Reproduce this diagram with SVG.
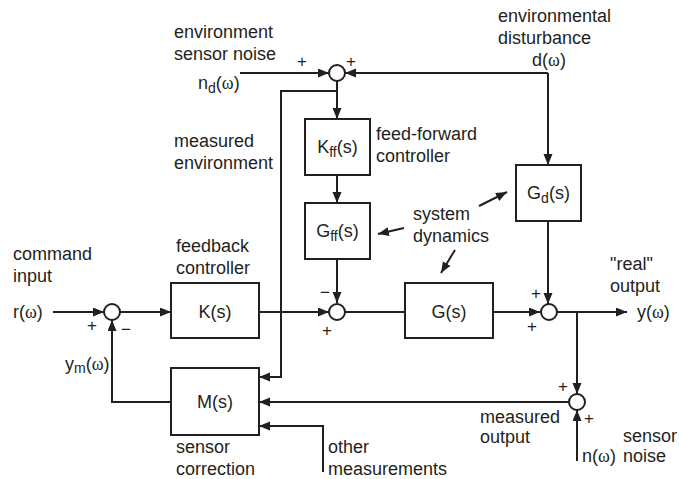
<svg xmlns="http://www.w3.org/2000/svg" width="679" height="479" viewBox="0 0 679 479">
<style>
text{font-family:"Liberation Sans",Arial,sans-serif;font-size:18px;fill:#231f20}
.sub{font-size:14px}
.w{font-family:"Liberation Serif","Times New Roman",serif}
.pm{font-size:17px}
.box{fill:#fff;stroke:#231f20;stroke-width:2}
.sum{fill:#fff;stroke:#231f20;stroke-width:2}
.c{fill:none;stroke:#231f20;stroke-width:2}
.mid{text-anchor:middle}
</style>
<defs>
<marker id="ah" markerUnits="userSpaceOnUse" markerWidth="12" markerHeight="10" refX="11" refY="4.5" orient="auto">
<path d="M0,0 L11,4.5 L0,9 z" fill="#231f20"/>
</marker>
</defs>
<rect width="679" height="479" fill="#fff"/>
<g id="connectors">
<path class="c" d="M240,73 H329" marker-end="url(#ah)"/>
<path class="c" d="M548,73 H345" marker-end="url(#ah)"/>
<path class="c" d="M548,73 V165" marker-end="url(#ah)"/>
<path class="c" d="M337,81 V119" marker-end="url(#ah)"/>
<path class="c" d="M337,91 H281 V377 H259" marker-end="url(#ah)"/>
<path class="c" d="M337,175 V203" marker-end="url(#ah)"/>
<path class="c" d="M337,259 V303" marker-end="url(#ah)"/>
<path class="c" d="M53,312 H104" marker-end="url(#ah)"/>
<path class="c" d="M120,312 H171" marker-end="url(#ah)"/>
<path class="c" d="M259,312 H329" marker-end="url(#ah)"/>
<path class="c" d="M345,312 H405"/>
<path class="c" d="M493,312 H540" marker-end="url(#ah)"/>
<path class="c" d="M557,312 H627" marker-end="url(#ah)"/>
<path class="c" d="M548,221 V304" marker-end="url(#ah)"/>
<path class="c" d="M577,312 V394" marker-end="url(#ah)"/>
<path class="c" d="M569,402 H259" marker-end="url(#ah)"/>
<path class="c" d="M577,461 V410" marker-end="url(#ah)"/>
<path class="c" d="M323,472 V426 H259" marker-end="url(#ah)"/>
<path class="c" d="M171,402 H112 V320" marker-end="url(#ah)"/>
<path class="c" d="M404,228 L378,234" marker-end="url(#ah)"/>
<path class="c" d="M479,206 L507,192" marker-end="url(#ah)"/>
<path class="c" d="M455,250 L441,273" marker-end="url(#ah)"/>
</g>
<g id="sum-top"><circle class="sum" cx="337" cy="73" r="8"/><text class="pm" x="297" y="67">+</text><text class="pm" x="346" y="67">+</text></g>
<g id="sum-mid"><circle class="sum" cx="337" cy="312" r="8"/><text class="pm" x="320" y="298">−</text><text class="pm" x="322" y="336">+</text></g>
<g id="sum-left"><circle class="sum" cx="112" cy="312" r="8"/><text class="pm" x="87" y="331">+</text><text class="pm" x="121" y="335">−</text></g>
<g id="sum-right"><circle class="sum" cx="549" cy="312" r="8"/><text class="pm" x="531" y="299">+</text><text class="pm" x="527" y="332">+</text></g>
<g id="sum-bottom"><circle class="sum" cx="577" cy="402" r="8"/><text class="pm" x="558" y="392">+</text><text class="pm" x="584" y="424">+</text></g>
<g id="Kff"><rect class="box" x="305" y="119" width="65" height="56"/><text class="mid" x="337.5" y="153">K<tspan class="sub" dy="4">ff</tspan><tspan dy="-4">(s)</tspan></text></g>
<g id="Gff"><rect class="box" x="305" y="203" width="65" height="56"/><text class="mid" x="337.5" y="237">G<tspan class="sub" dy="4">ff</tspan><tspan dy="-4">(s)</tspan></text></g>
<g id="Gd"><rect class="box" x="516" y="165" width="65" height="56"/><text class="mid" x="548.5" y="199">G<tspan class="sub" dy="4">d</tspan><tspan dy="-4">(s)</tspan></text></g>
<g id="K"><rect class="box" x="171" y="283" width="88" height="55"/><text class="mid" x="215" y="318">K(s)</text></g>
<g id="G"><rect class="box" x="405" y="283" width="88" height="55"/><text class="mid" x="449" y="318">G(s)</text></g>
<g id="M"><rect class="box" x="171" y="368" width="88" height="67"/><text class="mid" x="215" y="408">M(s)</text></g>
<g id="labels">
<text x="174" y="38">environment</text>
<text x="174" y="60">sensor noise</text>
<text x="198" y="89">n<tspan class="sub" dy="4">d</tspan><tspan dy="-4">(</tspan><tspan class="w">ω</tspan>)</text>
<text x="498" y="22">environmental</text>
<text x="498" y="44">disturbance</text>
<text x="532" y="66">d(<tspan class="w">ω</tspan>)</text>
<text x="174" y="147">measured</text>
<text x="174" y="169">environment</text>
<text x="376" y="140">feed-forward</text>
<text x="376" y="162">controller</text>
<text x="413" y="220">system</text>
<text x="413" y="242">dynamics</text>
<text x="13" y="260">command</text>
<text x="13" y="282">input</text>
<text x="13" y="318">r(<tspan class="w">ω</tspan>)</text>
<text x="176" y="252">feedback</text>
<text x="176" y="274">controller</text>
<text x="610" y="270">"real"</text>
<text x="610" y="292">output</text>
<text x="637" y="318">y(<tspan class="w">ω</tspan>)</text>
<text x="65" y="370">y<tspan class="sub" dy="3">m</tspan><tspan dy="-3">(</tspan><tspan class="w">ω</tspan>)</text>
<text x="176" y="453">sensor</text>
<text x="176" y="475">correction</text>
<text x="328" y="453">other</text>
<text x="328" y="475">measurements</text>
<text x="480" y="423">measured</text>
<text x="480" y="443">output</text>
<text x="623" y="442">sensor</text>
<text x="623" y="462">noise</text>
<text x="582" y="462">n(<tspan class="w">ω</tspan>)</text>
</g>
</svg>
